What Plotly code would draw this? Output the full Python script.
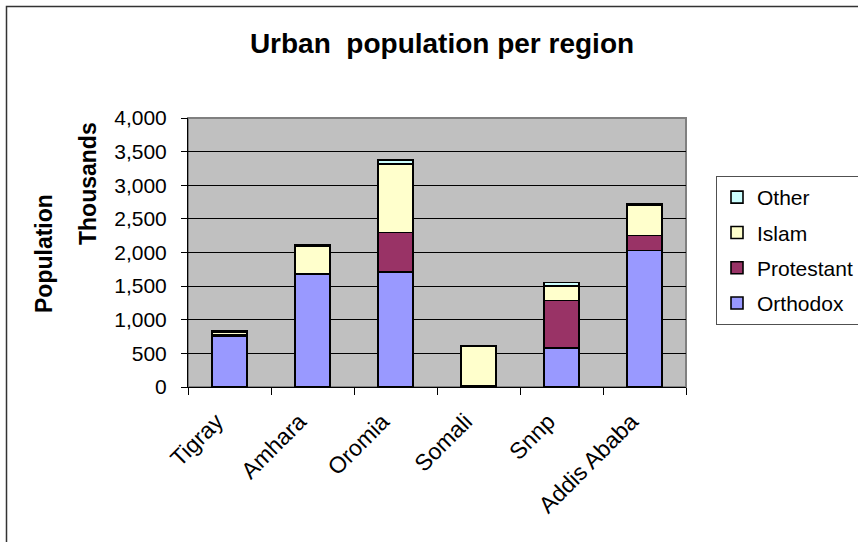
import plotly.graph_objects as go

# Urban population by region and religion (thousands)
regions = ["Tigray", "Amhara", "Oromia", "Somali", "Snnp", "Addis Ababa"]
orthodox = [752, 1670, 1714, 5, 584, 2031]
protestant = [25, 20, 585, 10, 704, 219]
islam = [45, 405, 1021, 599, 218, 456]
other = [10, 20, 56, 5, 49, 24]

# stacked bottom to top; legend lists them top to bottom
series = [
    ("Orthodox", orthodox, "#9999FF", 4),
    ("Protestant", protestant, "#993366", 3),
    ("Islam", islam, "#FFFFCC", 2),
    ("Other", other, "#CCFFFF", 1),
]

W, H = 858, 542
L, R, T, B = 188, 686, 118, 387  # plot area in pixels
FONT = "Arial, Liberation Sans, sans-serif"


def px_x(x):
    return (x - L) / (R - L)


def px_y(y):
    return (B - y) / (B - T)


fig = go.Figure()
for name, vals, color, rank in series:
    fig.add_trace(go.Bar(
        x=regions, y=vals, name=name, legendgroup=name, legendrank=rank,
        marker=dict(color=color, line=dict(color="black", width=1.6)),
    ))

fig.update_layout(
    width=W, height=H,
    margin=dict(l=L, r=W - R, t=T, b=H - B, autoexpand=False),
    paper_bgcolor="white",
    plot_bgcolor="#C0C0C0",
    barmode="stack",
    bargap=0.575,
    font=dict(family=FONT, size=21, color="black"),
    showlegend=True,
    legend=dict(
        x=px_x(716), y=px_y(176), xanchor="left", yanchor="top",
        traceorder="grouped", tracegroupgap=5,
        bgcolor="white", bordercolor="#505050", borderwidth=1,
        font=dict(family=FONT, size=21, color="black"),
        itemwidth=30,
    ),
    title=dict(
        text="<b>Urban  population per region</b>",
        x=442 / W, xanchor="center", xref="container",
        y=1 - 43 / H, yanchor="middle", yref="container",
        font=dict(family=FONT, size=28, color="black"),
    ),
)

fig.update_yaxes(
    range=[0, 4000], dtick=500, tickformat=",",
    showgrid=True, gridcolor="black", gridwidth=1,
    ticks="outside", ticklen=6, tickcolor="black", ticklabelstandoff=10,
    showline=True, linecolor="black", linewidth=1,
    zeroline=False, automargin=False,
    tickfont=dict(family=FONT, size=21),
)
fig.update_xaxes(
    type="category", tickangle=-45,
    ticks="outside", ticklen=7, tickcolor="black", tickson="boundaries",
    ticklabelstandoff=11, ticklabelshift=-13,
    showline=True, linecolor="black", linewidth=1,
    showgrid=False, automargin=False,
    tickfont=dict(family=FONT, size=23),
)

# axis titles
fig.add_annotation(
    text="<b>Population</b>", textangle=-90, showarrow=False,
    xref="paper", yref="paper", x=px_x(44), y=px_y(254),
    xanchor="center", yanchor="middle",
    font=dict(family=FONT, size=23, color="black"),
)
fig.add_annotation(
    text="<b>Thousands</b>", textangle=-90, showarrow=False,
    xref="paper", yref="paper", x=px_x(87.5), y=px_y(183.5),
    xanchor="center", yanchor="middle",
    font=dict(family=FONT, size=23, color="black"),
)

# plot-area frame and outer chart frame
fig.add_shape(
    type="rect", xref="paper", yref="paper", x0=0, x1=1, y0=0, y1=1,
    line=dict(color="#808080", width=2), layer="below",
)
fig.add_shape(
    type="rect", xref="paper", yref="paper",
    x0=px_x(6.5), x1=px_x(900), y0=px_y(600), y1=px_y(6.5),
    line=dict(color="#333333", width=1.5), fillcolor="rgba(0,0,0,0)",
)

fig.write_html("out.html")
